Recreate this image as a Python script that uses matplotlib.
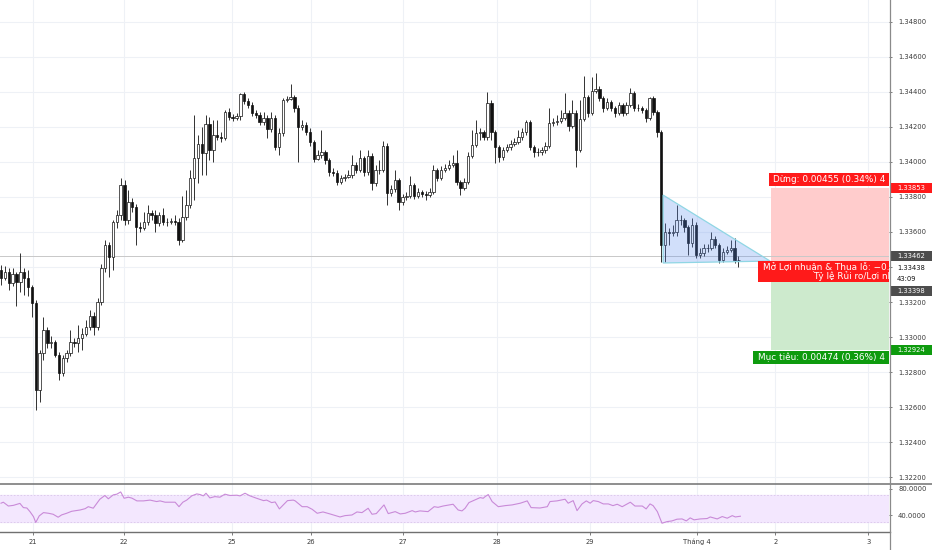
import matplotlib
matplotlib.use("Agg")
import matplotlib.pyplot as plt
import matplotlib.transforms as mtransforms
from matplotlib.patches import Rectangle, Polygon
from matplotlib.lines import Line2D

plt.rcParams['font.family'] = ['DejaVu Sans']

# ---------------- data ----------------
first_open = 1.33383
close = [
    1.33337, 1.33371, 1.33309, 1.33360, 1.33314, 1.33371, 1.33337, 1.33286, 1.33194, 1.32697,
    1.32909, 1.33040, 1.32966, 1.32972, 1.32897, 1.32795, 1.32880, 1.32909, 1.32972, 1.32966,
    1.32994, 1.33017, 1.33057, 1.33120, 1.33057, 1.33200, 1.33394, 1.33526, 1.33457, 1.33657,
    1.33697, 1.33869, 1.33669, 1.33771, 1.33743, 1.33629, 1.33623, 1.33657, 1.33709, 1.33697,
    1.33651, 1.33697, 1.33657, 1.33657, 1.33663, 1.33657, 1.33554, 1.33686, 1.33754, 1.33909,
    1.34023, 1.34103, 1.34052, 1.34217, 1.34069, 1.34154, 1.34143, 1.34137, 1.34286, 1.34257,
    1.34252, 1.34263, 1.34389, 1.34348, 1.34326, 1.34280, 1.34269, 1.34229, 1.34252, 1.34189,
    1.34252, 1.34086, 1.34166, 1.34354, 1.34360, 1.34371, 1.34309, 1.34200, 1.34212, 1.34172,
    1.34114, 1.34017, 1.34040, 1.34057, 1.34012, 1.33943, 1.33937, 1.33886, 1.33909, 1.33914,
    1.33926, 1.33983, 1.33954, 1.34023, 1.33943, 1.34034, 1.33880, 1.33954, 1.33954, 1.34092,
    1.33823, 1.33846, 1.33897, 1.33771, 1.33800, 1.33806, 1.33869, 1.33806, 1.33829, 1.33817,
    1.33811, 1.33829, 1.33954, 1.33909, 1.33954, 1.33966, 1.33983, 1.33994, 1.33886, 1.33851,
    1.33886, 1.34034, 1.34097, 1.34166, 1.34172, 1.34143, 1.34337, 1.34172, 1.34086, 1.34029,
    1.34069, 1.34086, 1.34103, 1.34114, 1.34143, 1.34172, 1.34229, 1.34086, 1.34057, 1.34057,
    1.34069, 1.34092, 1.34223, 1.34229, 1.34234, 1.34252, 1.34280, 1.34206, 1.34280, 1.34069,
    1.34246, 1.34371, 1.34280, 1.34406, 1.34417, 1.34366, 1.34309, 1.34343, 1.34309, 1.34280,
    1.34326, 1.34280, 1.34326, 1.34394, 1.34309, 1.34309, 1.34297, 1.34252, 1.34366, 1.34286,
    1.34172, 1.33526, 1.33600, 1.33594, 1.33600, 1.33669, 1.33669, 1.33629, 1.33537, 1.33640,
    1.33469, 1.33480, 1.33509, 1.33509, 1.33560, 1.33526, 1.33440, 1.33486, 1.33497, 1.33509,
    1.33440, 1.33438,
]
high = [
    1.33411, 1.33406, 1.33394, 1.33394, 1.33371, 1.33480, 1.33394, 1.33383, 1.33297, 1.33211,
    1.32926, 1.33114, 1.33057, 1.33006, 1.32983, 1.32914, 1.32897, 1.32926, 1.33040, 1.32994,
    1.33069, 1.33052, 1.33097, 1.33154, 1.33143, 1.33223, 1.33417, 1.33554, 1.33543, 1.33669,
    1.33726, 1.33909, 1.33897, 1.33840, 1.33794, 1.33760, 1.33657, 1.33714, 1.33754, 1.33726,
    1.33726, 1.33714, 1.33737, 1.33680, 1.33680, 1.33697, 1.33680, 1.33806, 1.33840, 1.33954,
    1.34269, 1.34154, 1.34200, 1.34269, 1.34257, 1.34240, 1.34240, 1.34172, 1.34297, 1.34309,
    1.34274, 1.34280, 1.34394, 1.34400, 1.34366, 1.34343, 1.34297, 1.34286, 1.34286, 1.34269,
    1.34286, 1.34269, 1.34194, 1.34366, 1.34377, 1.34446, 1.34383, 1.34326, 1.34240, 1.34229,
    1.34194, 1.34126, 1.34069, 1.34183, 1.34069, 1.34023, 1.33966, 1.33954, 1.33926, 1.33931,
    1.33954, 1.34040, 1.34000, 1.34069, 1.34034, 1.34069, 1.34052, 1.33983, 1.34012, 1.34120,
    1.34109, 1.33869, 1.33954, 1.33909, 1.33817, 1.33829, 1.33920, 1.33880, 1.33851, 1.33840,
    1.33834, 1.33851, 1.33983, 1.33966, 1.33977, 1.33989, 1.34012, 1.34040, 1.34069, 1.33897,
    1.33909, 1.34057, 1.34183, 1.34240, 1.34194, 1.34183, 1.34400, 1.34354, 1.34183, 1.34097,
    1.34086, 1.34103, 1.34126, 1.34137, 1.34183, 1.34194, 1.34240, 1.34240, 1.34097, 1.34080,
    1.34086, 1.34114, 1.34309, 1.34252, 1.34269, 1.34297, 1.34394, 1.34297, 1.34354, 1.34297,
    1.34354, 1.34491, 1.34383, 1.34486, 1.34509, 1.34434, 1.34377, 1.34366, 1.34354, 1.34320,
    1.34343, 1.34337, 1.34343, 1.34423, 1.34406, 1.34331, 1.34320, 1.34309, 1.34371, 1.34377,
    1.34297, 1.34183, 1.33651, 1.33623, 1.33640, 1.33754, 1.33697, 1.33680, 1.33640, 1.33680,
    1.33657, 1.33509, 1.33531, 1.33531, 1.33600, 1.33577, 1.33537, 1.33509, 1.33520, 1.33554,
    1.33566, 1.33463,
]
low = [
    1.33297, 1.33326, 1.33269, 1.33291, 1.33177, 1.33257, 1.33240, 1.33234, 1.33114, 1.32583,
    1.32629, 1.32869, 1.32937, 1.32937, 1.32886, 1.32754, 1.32777, 1.32857, 1.32892, 1.32943,
    1.32914, 1.32926, 1.33006, 1.33040, 1.33012, 1.33040, 1.33183, 1.33371, 1.33343, 1.33383,
    1.33623, 1.33669, 1.33640, 1.33646, 1.33714, 1.33526, 1.33600, 1.33611, 1.33640, 1.33669,
    1.33600, 1.33634, 1.33640, 1.33634, 1.33646, 1.33640, 1.33526, 1.33543, 1.33669, 1.33737,
    1.33783, 1.33880, 1.33926, 1.33926, 1.34012, 1.34000, 1.34126, 1.34114, 1.34126, 1.34240,
    1.34234, 1.34240, 1.34240, 1.34331, 1.34309, 1.34263, 1.34252, 1.34212, 1.34212, 1.34137,
    1.34172, 1.34069, 1.34040, 1.34149, 1.34343, 1.34354, 1.34286, 1.34000, 1.34183, 1.34154,
    1.34092, 1.34000, 1.34012, 1.34023, 1.33989, 1.33920, 1.33920, 1.33869, 1.33874, 1.33891,
    1.33909, 1.33909, 1.33937, 1.33943, 1.33920, 1.33926, 1.33840, 1.33863, 1.33931, 1.33943,
    1.33754, 1.33806, 1.33829, 1.33726, 1.33754, 1.33783, 1.33794, 1.33789, 1.33794, 1.33800,
    1.33783, 1.33800, 1.33817, 1.33891, 1.33897, 1.33943, 1.33954, 1.33971, 1.33869, 1.33811,
    1.33840, 1.33874, 1.34023, 1.34086, 1.34126, 1.34126, 1.34126, 1.34126, 1.33994, 1.34000,
    1.34012, 1.34057, 1.34069, 1.34092, 1.34103, 1.34126, 1.34154, 1.34069, 1.34029, 1.34034,
    1.34040, 1.34052, 1.34080, 1.34206, 1.34212, 1.34223, 1.34240, 1.34177, 1.34194, 1.33971,
    1.34057, 1.34234, 1.34257, 1.34269, 1.34394, 1.34348, 1.34286, 1.34297, 1.34291, 1.34257,
    1.34269, 1.34263, 1.34269, 1.34314, 1.34291, 1.34291, 1.34280, 1.34229, 1.34240, 1.34269,
    1.34143, 1.33429, 1.33429, 1.33526, 1.33577, 1.33577, 1.33640, 1.33600, 1.33469, 1.33514,
    1.33451, 1.33451, 1.33463, 1.33486, 1.33497, 1.33509, 1.33423, 1.33429, 1.33474, 1.33486,
    1.33423, 1.33400,
]

rsi_idx = [0, 0.6, 1.9, 3.2, 4.9, 5.8, 6.7, 7.5, 8.4, 9.0, 9.9, 11.0, 12.3, 13.5, 14.8, 15.7,
           17.0, 18.3, 20.5, 21.8, 22.6, 23.9, 25.6, 26.9, 27.8, 29.1, 30.0, 31.0, 31.9, 33.0,
           33.9, 35.2, 36.9, 38.6, 40.3, 41.2, 42.5, 45.1, 46.1, 47.1, 48.1, 49.4, 50.7, 51.6,
           52.4, 53.1, 54.1, 55.4, 56.7, 58.0, 59.3, 61.1, 61.9, 63.2, 64.5, 66.2, 68.0, 68.8,
           70.1, 71.0, 72.1, 73.1, 74.2, 75.7, 76.2, 78.0, 79.3, 80.6, 81.9, 83.4, 85.2, 87.8,
           89.1, 90.9, 92.2, 93.5, 95.1, 96.1, 97.2, 99.2, 100.3, 102.1, 103.4, 104.7, 106.5,
           107.3, 108.5, 110.6, 112.2, 113.2, 114.5, 117.1, 118.4, 119.4, 120.2, 121.2, 122.8,
           124.1, 124.9, 125.4, 126.2, 127.2, 128.8, 130.6, 132.4, 134.5, 136.3, 137.3, 139.6,
           141.5, 142.2, 144.0, 146.1, 146.9, 148.2, 149.2, 150.5, 151.6, 152.6, 153.4, 154.7,
           156.0, 157.3, 158.5, 159.6, 160.9, 163.0, 164.2, 166.1, 167.1, 168.1, 168.9, 170.0,
           171.2, 172.5, 173.8, 175.1, 176.4, 177.5, 178.5, 179.5, 181.1, 182.9, 183.7, 185.5,
           186.8, 188.1, 189.4, 190.2, 191.5]
rsi_val = [58.3, 59.8, 54, 55, 58, 51.6, 51, 45.5, 38, 29, 39, 44, 43, 41.5, 37, 40.5,
           43, 46, 48, 50, 53, 50.7, 64.3, 70, 65, 71, 72, 75.4, 65.8, 67.4,
           66, 61.8, 61.8, 63, 60.8, 61.8, 59.8, 59.8, 53, 59.8, 63, 69.4, 72.4, 71.4,
           69.4, 73.4, 66.3, 68.3, 67.4, 72, 70, 70.4, 69.4, 73.4, 69.4, 65.8, 62.2, 63,
           59.2, 60.2, 49.6, 55.7, 62.2, 63, 61.8, 53, 53, 49, 43, 45, 42, 37.4,
           39.4, 40.4, 45, 44, 50.6, 41.5, 42.5, 55.7, 42.5, 45.5, 42, 43, 47,
           45, 46.6, 45.5, 53, 52, 54, 56.7, 48, 46.6, 50.6, 59.2, 63.3,
           66.8, 65.8, 68.3, 71.4, 60.8, 53, 54.6, 55.7, 58.3, 61.8, 51.6, 51,
           53, 60.8, 61.8, 64.3, 58.3, 62.2, 47, 57.2, 61.8, 58.3, 62.2, 60.8,
           57.2, 57.2, 54.6, 56.7, 53, 59.8, 54, 54, 49.6, 57.2, 54.6, 45.5,
           27.9, 30.3, 31.4, 34, 34.4, 31.4, 36, 33, 34.4, 35, 37.4, 34.4,
           38, 35.5, 39.4, 37.4, 38.5]

price_ticks = [1.32200, 1.32400, 1.32600, 1.32800, 1.33000, 1.33200, 1.33400,
               1.33600, 1.33800, 1.34000, 1.34200, 1.34400, 1.34600, 1.34800]
price_tick_labels = ['1.32200', '1.32400', '1.32600', '1.32800', '1.33000', '1.33200', '',
                     '1.33600', '1.33800', '1.34000', '1.34200', '1.34400', '1.34600', '1.34800']
rsi_ticks = [80, 40]
rsi_tick_labels = ['80.0000', '40.0000']
rsi_band = [30, 70]
day_pos = [8.3, 31.9, 59.8, 80.2, 104.1, 128.4, 152.5, 180.3, 200.6, 224.6]
day_labels = ['21', '22', '25', '26', '27', '28', '29', 'Tháng 4', '2', '3']

stop_price = 1.33853
entry_price = 1.33398
target_price = 1.32924
hline_price = 1.33462
last_price = 1.33438
countdown = '43:09'
pos_start = 199.4
tri_idx = [171.5, 171.5, 199.2]
tri_price = [1.33811, 1.33423, 1.33434]

stop_text = 'Dừng: 0.00455 (0.34%) 4'
pnl_text = 'Mở Lợi nhuận & Thua lỗ: −0.'
rr_text = 'Tỷ lệ Rủi ro/Lợi nh'
target_text = 'Mục tiêu: 0.00474 (0.36%) 4'

# ---------------- layout ----------------
W, H = 932, 550
fig = plt.figure(figsize=(W / 100, H / 100), dpi=100)
fig.patch.set_facecolor('white')

sep_y = 484.3
rsi_bot = 531.7
axis_x = 889.0
ax = fig.add_axes([0, (H - sep_y) / H, axis_x / W, sep_y / H])
ax2 = fig.add_axes([0, (H - rsi_bot) / H, axis_x / W, (rsi_bot - sep_y) / H], sharex=ax)

YMIN, YMAX = 1.321583, 1.349257
XMIN, XMAX = -0.26, 230.0
ax.set_xlim(XMIN, XMAX)
ax.set_ylim(YMIN, YMAX)
ax2.set_ylim(15, 87)

grid_c = '#eef1f6'
txt_c = '#3a3a3a'
fs_axis = 4.9

for a in (ax, ax2):
    for s in a.spines.values():
        s.set_visible(False)
    a.set_facecolor('white')
    a.set_axisbelow(True)

ax.yaxis.tick_right()
ax.set_yticks(price_ticks)
ax.set_yticklabels(price_tick_labels)
ax.tick_params(axis='y', length=2.5, width=0.6, color='#666666', pad=4, labelsize=fs_axis,
               labelcolor=txt_c)
ax.grid(True, axis='both', color=grid_c, lw=0.8)
ax.set_xticks(day_pos)
ax.tick_params(axis='x', length=0, labelbottom=False)

ax2.yaxis.tick_right()
ax2.set_yticks(rsi_ticks)
ax2.set_yticklabels(rsi_tick_labels)
ax2.tick_params(axis='y', length=2.5, width=0.6, color='#666666', pad=4, labelsize=fs_axis,
                labelcolor=txt_c)
ax2.set_xticks(day_pos)
ax2.set_xticklabels(day_labels)
ax2.tick_params(axis='x', length=2.2, width=0.6, color='#666666', pad=3, labelsize=fs_axis,
                labelcolor=txt_c)
ax2.grid(True, axis='x', color=grid_c, lw=0.8)

# px -> price helper
def dp(px):
    return px * (YMAX - YMIN) / sep_y

# ---------------- candles ----------------
opens = [first_open] + close[:-1]
n = len(close)
idx = list(range(n))
ax.vlines(idx, low, high, color='#111111', lw=0.6, zorder=2)
for i in range(n):
    o, c = opens[i], close[i]
    up = c >= o
    h = abs(c - o)
    if h < 0.00002:
        h = 0.00002
    ax.add_patch(Rectangle((i - 0.31, min(o, c)), 0.62, h,
                           facecolor='white' if up else '#111111',
                           edgecolor='#111111', lw=0.5, zorder=3))

# horizontal line
ax.axhline(hline_price, color='#c8c8c8', lw=0.7, zorder=1.5)

# triangle
ax.add_patch(Polygon(list(zip(tri_idx, tri_price)), closed=True, facecolor='#5b8def',
                     alpha=0.28, edgecolor='none', zorder=4))
ax.add_patch(Polygon(list(zip(tri_idx, tri_price)), closed=True, facecolor='none',
                     edgecolor='#8fd6e4', lw=0.9, zorder=4))

# position tool zones
ax.add_patch(Rectangle((pos_start, entry_price), XMAX - pos_start, stop_price - entry_price,
                       facecolor='#ffcccc', edgecolor='none', zorder=1.2))
ax.add_patch(Rectangle((pos_start, target_price), XMAX - pos_start, entry_price - target_price,
                       facecolor='#cdeacd', edgecolor='none', zorder=1.2))

red_c = '#ff1a1a'
green_c = '#0e9b0e'
fs_lab = 6.4
# stop label
ax.add_patch(Rectangle((199.0, stop_price + dp(1.8)), XMAX - 199.0, dp(12.7),
                       facecolor=red_c, edgecolor='none', zorder=6))
ax.text(200.0, stop_price + dp(8.1), stop_text, color='white', fontsize=fs_lab,
        va='center', ha='left', zorder=7, clip_on=True)
# pnl label
ax.add_patch(Rectangle((196.1, entry_price - dp(15.1)), XMAX - 196.1, dp(21.0),
                       facecolor=red_c, edgecolor='none', zorder=6))
ax.text(197.3, entry_price + dp(0.5), pnl_text, color='white', fontsize=fs_lab,
        va='center', ha='left', zorder=7, clip_on=True)
ax.text(210.4, entry_price - dp(8.4), rr_text, color='white', fontsize=fs_lab,
        va='center', ha='left', zorder=7, clip_on=True)
# target label
ax.add_patch(Rectangle((194.8, target_price - dp(13.4)), XMAX - 194.8, dp(12.3),
                       facecolor=green_c, edgecolor='none', zorder=6))
ax.text(196.1, target_price - dp(7.3), target_text, color='white', fontsize=fs_lab,
        va='center', ha='left', zorder=7, clip_on=True)

# ---------------- RSI ----------------
ax2.axhspan(rsi_band[0], rsi_band[1], color='#f3e7fe', zorder=1)
for b in rsi_band:
    ax2.axhline(b, color='#d9c6ea', lw=0.6, ls=(0, (2, 2)), zorder=1.5)
ax2.plot(rsi_idx, rsi_val, color='#c98ad8', lw=0.8, zorder=3)

# ---------------- frame lines ----------------
fig.add_artist(Line2D([0, 1], [(H - sep_y) / H] * 2, transform=fig.transFigure,
                      color='#707070', lw=1.1))
fig.add_artist(Line2D([0, 890 / W], [(H - rsi_bot) / H] * 2, transform=fig.transFigure,
                      color='#707070', lw=1.0))
fig.add_artist(Line2D([890 / W] * 2, [0, 1], transform=fig.transFigure,
                      color='#8a8a8a', lw=0.9))

# ---------------- right-axis price labels ----------------
tr = mtransforms.blended_transform_factory(fig.transFigure, ax.transData)
lab_x0 = 890.5 / W
lab_w = 42 / W
text_x = 897 / W

def axis_label(price, text, bg, fg='white', bold=False):
    if bg is not None:
        r = Rectangle((lab_x0, price - dp(5)), lab_w, dp(10), transform=tr,
                      facecolor=bg, edgecolor='none', clip_on=False, zorder=10)
        ax.add_artist(r)
    ax.text(text_x, price, text, transform=tr, color=fg, fontsize=fs_axis, va='center',
            ha='left', clip_on=False, zorder=11, fontweight='bold' if bold else 'normal')

axis_label(stop_price, '1.33853', red_c)
axis_label(hline_price, '1.33462', '#4d4d4d')
axis_label(last_price - dp(7.7), '1.33438', None, fg='#111111')
axis_label(last_price - dp(19.0), countdown, None, fg='#111111')
axis_label(entry_price - dp(24.1), '1.33398', '#4d4d4d')
axis_label(target_price + dp(0.6), '1.32924', green_c)

fig.savefig('out.png', dpi=100, facecolor='white')
